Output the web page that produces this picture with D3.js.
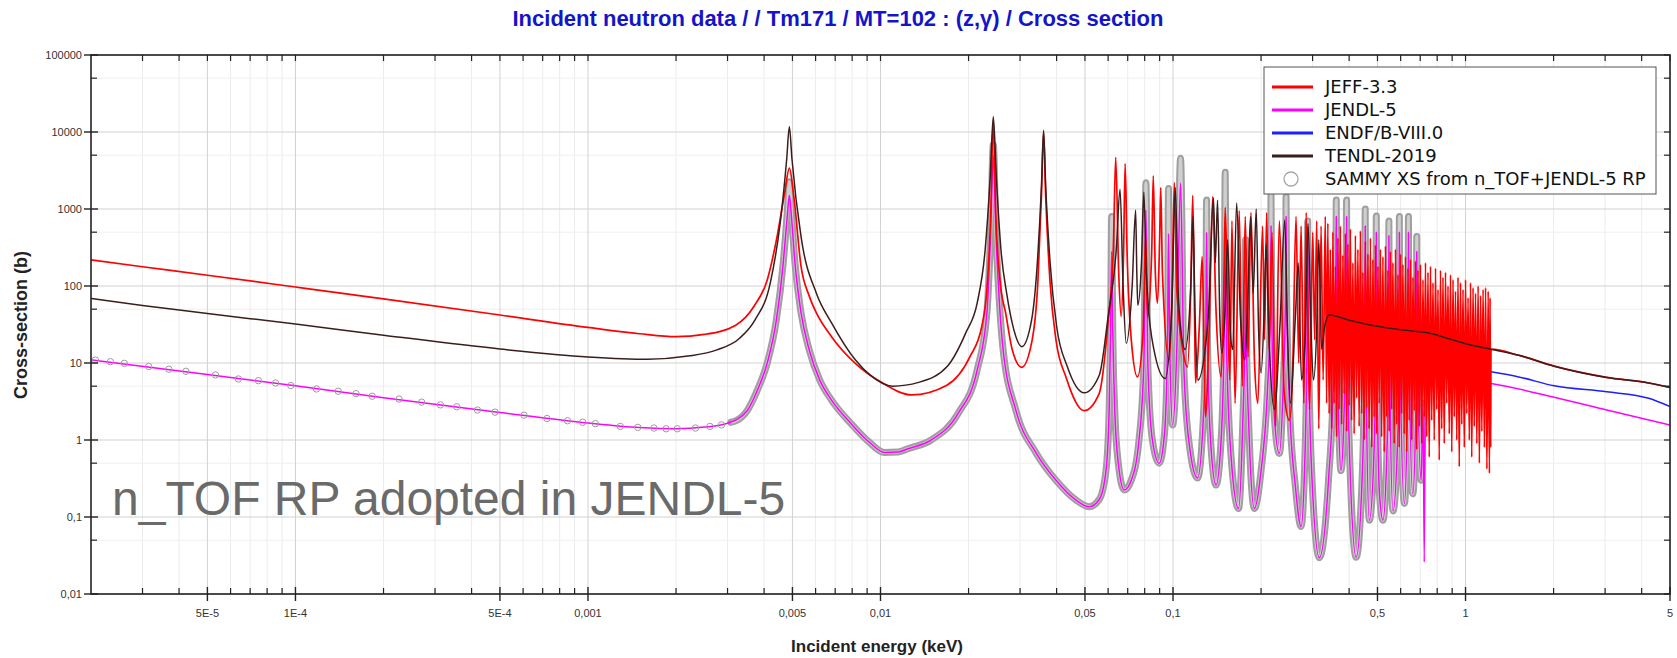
<!DOCTYPE html>
<html>
<head>
<meta charset="utf-8">
<script src="https://cdn.jsdelivr.net/npm/d3@7"></script>
<style>
body{margin:0;background:#fff;}
svg{display:block;}
</style>
</head>
<body>
<svg id="chart" width="1677" height="658"></svg>
<script>
// energies in keV, cross sections in barns
const jeff = [
 [2e-5,218],[3e-5,178],[5e-5,138],[1e-4,97],[2e-4,68],[5e-4,42],[1e-3,29],[1.5e-3,24],[2e-3,22],[2.5e-3,23.5],[3.2e-3,31],[3.7e-3,55],[4.1e-3,120],[4.45e-3,480],[4.7e-3,1600],[4.88e-3,3400],[5.05e-3,1500],[5.35e-3,180],[5.7e-3,75],[6.05e-3,44],[6.8e-3,22],[8.2e-3,9.9],[0.01,5.7],[0.0128,3.85],[0.0168,5.1],[0.0202,12],[0.0222,30],[0.0232,110],[0.0238,800],[0.0243,14500],[0.0248,800],[0.0256,120],[0.0268,44],[0.0282,15],[0.0304,8.8],[0.033,20],[0.0345,110],[0.0355,1500],[0.0361,9800],[0.0367,1500],[0.038,110],[0.0398,20],[0.0431,6.5],[0.0497,2.4],
 [0.0559,4],[0.0598,30],[0.0625,300],[0.0637,4700],[0.0652,150],[0.0665,40],[0.0678,300],[0.0686,3900],[0.0697,250],[0.072,20],[0.0756,6.6],[0.079,25],[0.0806,450],[0.0818,40],[0.0845,250],[0.0856,2700],[0.087,150],[0.0885,60],[0.09,400],[0.0908,1900],[0.092,150],[0.097,11],[0.0995,120],[0.101,2200],[0.103,90],[0.108,15],[0.112,8.9],[0.115,90],[0.1168,1500],[0.1185,40],[0.1194,5.5],[0.123,30],[0.1258,240],[0.1275,20],[0.129,2],[0.133,30],[0.1367,1450],[0.14,60],[0.146,6.6],[0.149,80],[0.1508,1050],[0.154,40],[0.1565,6],
 [0.159,700],[0.163,3],[0.1684,950],[0.1725,5],[0.1766,800],[0.1805,12],[0.1847,900],[0.19,10],[0.195,3],[0.2024,600],[0.2055,20],[0.209,900],[0.213,15],[0.218,500],[0.224,1.5],[0.2309,700],[0.24,4],[0.25,1.8],[0.256,6],[0.2634,800],[0.269,10],[0.2741,600],[0.28,3],[0.2852,900],[0.293,2.5],[0.3004,500],[0.305,20],[0.31,700],[0.315,1.4],[0.3207,600],[0.326,6],[0.3316,800],[0.335,3],
 [0.3383,650],[0.3417,2.2],[0.345,300],[0.3485,1.4],[0.3519,500],[0.3554,3],[0.3589,180],[0.3625,1.1],[0.3661,420],[0.3697,2.5],[0.3734,600],[0.3771,1.6],[0.3808,250],[0.3846,4],[0.3884,480],[0.3922,1.3],[0.3961,350],[0.4,2.8],[0.404,550],[0.408,1.8],[0.412,200],[0.4161,1.2],[0.4202,450],[0.4244,3.5],[0.4286,300],[0.4328,1.5],[0.4371,520],[0.4414,2.2],[0.4458,150],[0.4502,1],
 [0.4547,380],[0.4592,2.6],[0.4637,260],[0.4683,1.4],[0.4729,420],[0.4776,0.8],[0.4823,220],[0.4871,2],[0.4919,340],[0.4968,1.2],[0.5017,180],[0.5067,3],[0.5117,300],[0.5168,1.1],[0.5219,240],[0.5271,0.7],[0.5323,330],[0.5376,2],[0.5429,160],[0.5483,1.3],[0.5537,280],[0.5592,2.5],[0.5647,200],[0.5703,0.9],[0.576,300],[0.5817,1.6],[0.5874,140],[0.5932,0.8],[0.5991,260],[0.605,2.2],
 [0.611,190],[0.6171,1.2],[0.6232,240],[0.6294,0.7],[0.6356,170],[0.6419,1.8],[0.6482,220],[0.6546,1],[0.6611,130],[0.6677,2.4],[0.6743,210],[0.6809,0.75],[0.6877,160],[0.6945,1.5],[0.7014,190],[0.7083,0.9],[0.7153,120],[0.7224,2],[0.7296,200],[0.7368,1.1],[0.7441,150],[0.7514,0.6],[0.7589,180],[0.7664,1.8],[0.774,110],[0.7816,1],[0.7894,170],[0.7972,2.5],[0.8051,90],[0.813,0.55],
 [0.8211,160],[0.8292,1.4],[0.8374,130],[0.8457,0.9],[0.8541,150],[0.8625,3],[0.8711,100],[0.8797,1.2],[0.8884,140],[0.8972,0.7],[0.9061,120],[0.9151,2],[0.9241,85],[0.9333,1],[0.9425,130],[0.9518,0.45],[0.9613,110],[0.9708,1.6],[0.9804,90],[0.9901,0.8],[1.0,120],[1.01,2.2],[1.02,70],[1.03,1],[1.04,110],[1.05,0.6],[1.061,95],[1.071,1.5],[1.082,80],[1.093,0.9],
 [1.104,100],[1.115,0.5],[1.126,75],[1.137,1.3],[1.148,90],[1.16,0.8],[1.171,95],[1.183,0.42],[1.195,85],[1.207,0.37],[1.213,70],[1.219,0.8],
 [1.222,15.1],[1.52,12.6],[2.01,9.1],[3.04,6.5],[4.23,5.5],[5,4.8]
];

const jendl = [
 [2e-5,11],[5e-5,7.1],[1e-4,5.05],[2e-4,3.55],[5e-4,2.28],[1e-3,1.66],[1.5e-3,1.45],[2e-3,1.4],[2.5e-3,1.47],[3e-3,1.65],[3.5e-3,2.4],[3.8e-3,4.5],[4.1e-3,10],[4.4e-3,35],[4.65e-3,200],[4.8e-3,800],[4.88e-3,1500],[4.96e-3,800],[5.1e-3,200],[5.35e-3,45],[5.7e-3,15],[6.2e-3,6],[6.8e-3,3.3],[7.9e-3,1.66],[9.2e-3,0.92],[0.0103,0.69],[0.0115,0.7],[0.0124,0.77],[0.0149,1],[0.0184,2.2],[0.0214,8.1],[0.0231,44],[0.0238,500],[0.0243,5000],[0.0248,500],[0.0255,60],[0.0262,16],[0.029,2.46],[0.0341,0.67],[0.0398,0.3],[0.0466,0.166],[0.0517,0.136],
 [0.056,0.17],[0.059,0.4],[0.0605,2.5],[0.0612,30],[0.0617,280],[0.0622,30],[0.0632,2.5],[0.065,0.5],[0.0681,0.224],[0.072,0.3],[0.0765,1],[0.0795,10],[0.0808,970],[0.082,10],[0.085,1],[0.0897,0.5],[0.0935,1.2],[0.0958,20],[0.0965,480],[0.0975,15],[0.0997,1.57],[0.103,15],[0.1061,2170],[0.109,8],[0.114,0.8],[0.1213,0.32],[0.127,2],[0.1295,30],[0.1302,490],[0.1312,20],[0.134,1.2],[0.1403,0.26],[0.146,1],[0.1495,20],[0.1508,600],[0.1525,15],[0.158,0.6],[0.1675,0.129],
 [0.173,1.5],[0.1765,40],[0.177,300],[0.178,30],[0.182,1.2],[0.1897,0.129],[0.2,0.4],[0.21,4],[0.2155,60],[0.2163,600],[0.2175,50],[0.222,2],[0.2309,0.67],[0.238,5],[0.2425,80],[0.2435,800],[0.2445,80],[0.25,3],[0.262,0.25],[0.274,0.075],[0.282,0.5],[0.2875,30],[0.2887,590],[0.29,30],[0.297,0.5],[0.3163,0.0296],[0.34,0.3],[0.355,10],[0.3605,200],[0.3615,800],[0.363,30],[0.368,2],[0.375,0.4],[0.384,2],[0.3905,80],[0.392,800],[0.3935,50],[0.4,1],[0.4227,0.03],
 [0.445,0.5],[0.452,20],[0.454,600],[0.456,15],[0.469,0.091],[0.488,1],[0.494,30],[0.4954,500],[0.497,20],[0.508,0.2],[0.522,0.091],[0.54,1],[0.5458,40],[0.547,450],[0.5485,30],[0.565,0.12],[0.588,1.5],[0.5928,50],[0.594,500],[0.5955,30],[0.618,0.15],[0.633,3],[0.6368,60],[0.638,500],[0.6395,40],[0.66,0.2],[0.677,3],[0.6798,40],[0.681,280],[0.6825,30],[0.705,0.3],[0.716,3],[0.7225,0.026],[0.729,7],[0.9,6.2],
 [1.222,5.4],[2.01,3.6],[3.04,2.45],[5,1.56]
];

const endf = [[1.222,7.7],[1.52,6.6],[2.01,5.05],[3.04,4.23],[4.23,3.48],[5,2.72]];

const tendl = [
 [2e-5,69],[3e-5,56],[5e-5,44],[1e-4,32],[2e-4,23],[5e-4,15.2],[1e-3,12],[1.6e-3,11.2],[2.2e-3,12.3],[2.76e-3,14.8],[3.3e-3,21],[3.72e-3,36],[4.2e-3,110],[4.55e-3,700],[4.78e-3,4500],[4.88e-3,11700],[4.98e-3,4500],[5.35e-3,437],[6.04e-3,80],[6.81e-3,33],[8.2e-3,11],[9.2e-3,7],[0.011,5],[0.0135,5.6],[0.0169,9],[0.0196,25],[0.0214,60],[0.0228,300],[0.0237,2500],[0.0243,15800],[0.0249,2500],[0.0258,300],[0.027,80],[0.0285,28],[0.0304,16.3],[0.0328,35],[0.0345,250],[0.0355,2000],[0.0361,10500],[0.0367,2000],[0.038,200],[0.04,30],[0.0435,9],[0.0497,4.1],
 [0.056,7],[0.06,40],[0.064,300],[0.0659,1800],[0.0675,100],[0.0692,18],[0.0725,100],[0.0745,970],[0.0752,150],[0.0758,56],[0.078,200],[0.0795,1650],[0.081,150],[0.086,15],[0.094,6.3],[0.099,50],[0.1018,1900],[0.1045,60],[0.11,15],[0.115,100],[0.117,800],[0.119,40],[0.1216,6],[0.132,40],[0.1375,1400],[0.1395,200],[0.142,1300],[0.1445,40],[0.147,13.4],[0.151,60],[0.1537,400],[0.157,25],
 [0.16,15],[0.165,1200],[0.17,40],[0.176,11],[0.18,60],[0.184,800],[0.188,80],[0.1925,1000],[0.196,30],[0.2,7.4],[0.205,50],[0.208,350],[0.213,20],[0.222,2.5],[0.232,30],[0.241,720],[0.246,30],[0.252,3],[0.262,40],[0.268,200],[0.275,6],[0.283,20],[0.2895,650],[0.296,30],[0.302,6],[0.31,30],[0.315,400],[0.322,15],[0.33,30],
 [0.342,42],[0.4,36],[0.5,30],[0.6,27],[0.75,24.5],[0.9,20],[1.05,17],[1.222,15.1],[1.52,12.6],[2.01,9.1],[3.04,6.5],[4.23,5.5],[5,4.8]
];

const sammy = [
 [2.07e-5,10.9],[2.33e-5,10.4],[2.6e-5,9.9],[3.15e-5,9],[3.69e-5,8.3],[4.22e-5,7.8],[5.33e-5,7],[6.38e-5,6.2],[7.47e-5,5.9],[8.55e-5,5.5],[9.64e-5,5.1],[1.18e-4,4.6],[1.4e-4,4.3],[1.61e-4,4],[1.83e-4,3.7],[2.26e-4,3.4],[2.7e-4,3.1],[3.13e-4,2.86],[3.56e-4,2.7],[4.19e-4,2.45],[4.81e-4,2.3],[6.04e-4,2.1],[7.24e-4,1.9],[8.51e-4,1.78],[9.59e-4,1.7],[1.06e-3,1.63],[1.29e-3,1.5],[1.48e-3,1.46],[1.68e-3,1.43],[1.85e-3,1.4],[2.02e-3,1.4],[2.33e-3,1.43],[2.61e-3,1.5],[2.86e-3,1.57],[3.08e-3,1.7],[3.21e-3,1.78],
 [3.5e-3,2.4],[3.8e-3,4.5],[4.1e-3,10],[4.4e-3,35],[4.65e-3,200],[4.8e-3,900],[4.88e-3,2260],[4.96e-3,900],[5.1e-3,200],[5.35e-3,45],[5.7e-3,15],[6.2e-3,6],[6.8e-3,3.3],[7.9e-3,1.66],[9.2e-3,0.92],[0.0103,0.69],[0.0115,0.7],[0.0124,0.77],[0.0149,1],[0.0184,2.2],[0.0214,8.1],[0.0231,44],[0.0238,500],[0.0243,6900],[0.0248,500],[0.0255,60],[0.0262,16],[0.029,2.46],[0.0341,0.67],[0.0398,0.3],[0.0466,0.166],[0.0517,0.136],
 [0.056,0.17],[0.059,0.4],[0.0605,2.5],[0.0612,30],[0.0617,800],[0.0622,30],[0.0632,2.5],[0.065,0.5],[0.0681,0.224],[0.072,0.3],[0.0765,1],[0.0795,10],[0.0808,2200],[0.082,10],[0.085,1],[0.0897,0.5],[0.0935,1.2],[0.0958,20],[0.0965,1840],[0.0975,15],[0.0997,1.57],[0.103,15],[0.1061,4560],[0.109,8],[0.114,0.8],[0.1213,0.32],[0.127,2],[0.1295,30],[0.1302,1310],[0.1312,20],[0.134,1.2],[0.1403,0.26],[0.146,1],[0.1495,20],[0.1508,3000],[0.1525,15],[0.158,0.6],[0.1675,0.129],
 [0.173,1.5],[0.1765,40],[0.177,400],[0.178,30],[0.182,1.2],[0.1897,0.129],[0.2,0.4],[0.21,4],[0.2155,60],[0.2163,1580],[0.2175,50],[0.222,2],[0.2309,0.67],[0.238,5],[0.2425,80],[0.2435,1450],[0.2445,80],[0.25,3],[0.262,0.25],[0.274,0.075],[0.282,0.5],[0.2875,30],[0.2887,700],[0.29,30],[0.297,0.5],[0.3163,0.0296],[0.34,0.3],[0.355,10],[0.3605,200],[0.3615,1310],[0.363,30],[0.368,2],[0.375,0.4],[0.384,2],[0.3905,80],[0.392,1310],[0.3935,50],[0.4,1],[0.4227,0.03],
 [0.445,0.5],[0.452,20],[0.454,1000],[0.456,15],[0.469,0.091],[0.488,1],[0.494,30],[0.4954,810],[0.497,20],[0.508,0.2],[0.522,0.091],[0.54,1],[0.5458,40],[0.547,700],[0.5485,30],[0.565,0.12],[0.588,1.5],[0.5928,50],[0.594,800],[0.5955,30],[0.618,0.15],[0.633,3],[0.6368,60],[0.638,800],[0.6395,40],[0.66,0.2],[0.677,3],[0.6798,40],[0.681,440],[0.6825,30],[0.705,0.3],[0.716,3]
];

const seriesNames = ["JEFF-3.3", "JENDL-5", "ENDF/B-VIII.0", "TENDL-2019", "SAMMY XS from n_TOF+JENDL-5 RP"];
const seriesColors = ["#ff0000", "#ff00ff", "#1e1eff", "#3b1d1d", "#a6a6a6"];

const xMajorTicks = [5e-5, 1e-4, 5e-4, 1e-3, 5e-3, 0.01, 0.05, 0.1, 0.5, 1, 5];
const xTickLabels = ["5E-5", "1E-4", "5E-4", "0,001", "0,005", "0,01", "0,05", "0,1", "0,5", "1", "5"];
const yMajorTicks = [0.01, 0.1, 1, 10, 100, 1000, 10000, 100000];
const yTickLabels = ["0,01", "0,1", "1", "10", "100", "1000", "10000", "100000"];
const yMinorTicks = [0.05, 0.5, 5, 50, 500, 5000, 50000];

const plot = {left: 91, right: 1670, top: 55, bottom: 594};

window.onload = () => {
    const svg = d3.select("#chart");
    const x = d3.scaleLog().domain([2e-5, 5]).range([plot.left, plot.right]);
    const y = d3.scaleLog().domain([0.01, 1e5]).range([plot.bottom, plot.top]);

    // minor x ticks: 2..9 of each decade that are not labelled
    let xMinorTicks = [];
    for (let p = -5; p <= 0; p++) {
        [2, 3, 4, 6, 7, 8, 9].forEach(m => {
            let v = m * Math.pow(10, p);
            if (v > 2.01e-5 && v < 5) xMinorTicks.push(v);
        });
    }

    // grid
    let grid = svg.append("g");
    grid.selectAll(".vminor").data(xMinorTicks).enter().append("line")
        .attr("x1", d => x(d)).attr("x2", d => x(d))
        .attr("y1", plot.top).attr("y2", plot.bottom)
        .attr("stroke", "#ececec").attr("stroke-width", 1);
    grid.selectAll(".hminor").data(yMinorTicks).enter().append("line")
        .attr("x1", plot.left).attr("x2", plot.right)
        .attr("y1", d => y(d)).attr("y2", d => y(d))
        .attr("stroke", "#efefef").attr("stroke-width", 1);
    grid.selectAll(".vmajor").data(xMajorTicks).enter().append("line")
        .attr("x1", d => x(d)).attr("x2", d => x(d))
        .attr("y1", plot.top).attr("y2", plot.bottom)
        .attr("stroke", "#d2d2d2").attr("stroke-width", 1);
    grid.selectAll(".hmajor").data(yMajorTicks).enter().append("line")
        .attr("x1", plot.left).attr("x2", plot.right)
        .attr("y1", d => y(d)).attr("y2", d => y(d))
        .attr("stroke", "#d2d2d2").attr("stroke-width", 1.2);

    // big note
    svg.append("text")
        .attr("x", 112).attr("y", 515)
        .attr("font-family", "Liberation Sans, Arial, sans-serif")
        .attr("font-size", 48)
        .attr("fill", "#6a6a6a")
        .text("n_TOF RP adopted in JENDL-5");

    svg.append("clipPath").attr("id", "plot-clip")
        .append("rect")
        .attr("x", plot.left).attr("y", plot.top)
        .attr("width", plot.right - plot.left).attr("height", plot.bottom - plot.top);

    let lines = svg.append("g").attr("clip-path", "url(#plot-clip)");
    let line = d3.line().x(d => x(d[0])).y(d => y(d[1])).curve(d3.curveMonotoneX);

    // SAMMY points are so dense above ~3 eV that they merge into a band
    let dense = sammy.filter(d => d[0] >= 3e-3);
    lines.append("path")
        .attr("d", line(dense))
        .attr("fill", "none")
        .attr("stroke", "#9f9f9f")
        .attr("stroke-width", 7)
        .attr("stroke-linejoin", "round")
        .attr("stroke-linecap", "round");
    lines.append("path")
        .attr("d", line(dense))
        .attr("fill", "none")
        .attr("stroke", "#cfcfcf")
        .attr("stroke-width", 3)
        .attr("stroke-linejoin", "round");

    const order = [[jendl, 1, 1.5], [endf, 2, 1.5], [jeff, 0, 1.7], [tendl, 3, 1.5]];
    order.forEach(([data, i, w]) => {
        lines.append("path")
            .attr("d", line(data))
            .attr("fill", "none")
            .attr("stroke", seriesColors[i])
            .attr("stroke-width", w)
            .attr("stroke-linejoin", "round");
    });

    lines.selectAll(".sammy").data(sammy.filter(d => d[0] < 3e-3)).enter().append("circle")
        .attr("cx", d => x(d[0])).attr("cy", d => y(d[1]))
        .attr("r", 3.2)
        .attr("fill", "none")
        .attr("stroke", "#9c9c9c")
        .attr("stroke-width", 1);

    // frame and ticks
    let axes = svg.append("g").attr("stroke", "#222");
    axes.append("rect")
        .attr("x", plot.left).attr("y", plot.top)
        .attr("width", plot.right - plot.left).attr("height", plot.bottom - plot.top)
        .attr("fill", "none").attr("stroke-width", 1.6);
    axes.selectAll(".xmaj").data(xMajorTicks).enter().append("line")
        .attr("x1", d => x(d)).attr("x2", d => x(d))
        .attr("y1", plot.bottom - 7).attr("y2", plot.bottom + 7).attr("stroke-width", 1.4);
    axes.selectAll(".xmin").data(xMinorTicks).enter().append("line")
        .attr("x1", d => x(d)).attr("x2", d => x(d))
        .attr("y1", plot.bottom - 6).attr("y2", plot.bottom).attr("stroke-width", 1.2);
    axes.selectAll(".xtop").data(xMajorTicks.concat(xMinorTicks)).enter().append("line")
        .attr("x1", d => x(d)).attr("x2", d => x(d))
        .attr("y1", plot.top).attr("y2", plot.top + 6).attr("stroke-width", 1.2);
    axes.selectAll(".ymaj").data(yMajorTicks).enter().append("line")
        .attr("x1", plot.left - 7).attr("x2", plot.left + 7)
        .attr("y1", d => y(d)).attr("y2", d => y(d)).attr("stroke-width", 1.4);
    axes.selectAll(".ymin").data(yMinorTicks).enter().append("line")
        .attr("x1", plot.left).attr("x2", plot.left + 6)
        .attr("y1", d => y(d)).attr("y2", d => y(d)).attr("stroke-width", 1.2);
    axes.selectAll(".yright").data(yMajorTicks.concat(yMinorTicks)).enter().append("line")
        .attr("x1", plot.right - 6).attr("x2", plot.right)
        .attr("y1", d => y(d)).attr("y2", d => y(d)).attr("stroke-width", 1.2);

    // tick labels
    svg.selectAll(".xlab").data(xMajorTicks).enter().append("text")
        .attr("x", d => x(d)).attr("y", plot.bottom + 23)
        .attr("text-anchor", "middle")
        .attr("font-family", "Liberation Sans, Arial, sans-serif")
        .attr("font-size", 11).attr("fill", "#333")
        .text((d, i) => xTickLabels[i]);
    svg.selectAll(".ylab").data(yMajorTicks).enter().append("text")
        .attr("x", plot.left - 9).attr("y", d => y(d) + 4)
        .attr("text-anchor", "end")
        .attr("font-family", "Liberation Sans, Arial, sans-serif")
        .attr("font-size", 11).attr("fill", "#333")
        .text((d, i) => yTickLabels[i]);

    // titles
    svg.append("text")
        .attr("x", 838).attr("y", 26)
        .attr("text-anchor", "middle")
        .attr("font-family", "Liberation Sans, Arial, sans-serif")
        .attr("font-weight", "bold").attr("font-size", 22)
        .attr("fill", "#1414c8")
        .text("Incident neutron data / / Tm171 / MT=102 : (z,γ) / Cross section");
    svg.append("text")
        .attr("x", 877).attr("y", 652)
        .attr("text-anchor", "middle")
        .attr("font-family", "Liberation Sans, Arial, sans-serif")
        .attr("font-weight", "bold").attr("font-size", 17)
        .attr("fill", "#222")
        .text("Incident energy (keV)");
    svg.append("text")
        .attr("transform", "translate(27,325) rotate(-90)")
        .attr("text-anchor", "middle")
        .attr("font-family", "Liberation Sans, Arial, sans-serif")
        .attr("font-weight", "bold").attr("font-size", 18)
        .attr("fill", "#222")
        .text("Cross-section (b)");

    // legend
    let legend = svg.append("g").attr("transform", "translate(1264,67)");
    legend.append("rect")
        .attr("width", 392).attr("height", 127)
        .attr("fill", "#fff").attr("stroke", "#555").attr("stroke-width", 1);
    seriesNames.forEach((name, i) => {
        let row = legend.append("g").attr("transform", `translate(0,${20 + i * 23})`);
        if (i < 4) {
            row.append("line")
                .attr("x1", 8).attr("x2", 49)
                .attr("stroke", seriesColors[i]).attr("stroke-width", 3);
        } else {
            row.append("circle")
                .attr("cx", 27).attr("r", 7)
                .attr("fill", "none").attr("stroke", seriesColors[i]).attr("stroke-width", 1.3);
        }
        row.append("text")
            .attr("x", 61).attr("y", 6)
            .attr("font-family", "DejaVu Sans, sans-serif")
            .attr("font-size", 18).attr("fill", "#111")
            .text(name);
    });
}
</script>
</body>
</html>
